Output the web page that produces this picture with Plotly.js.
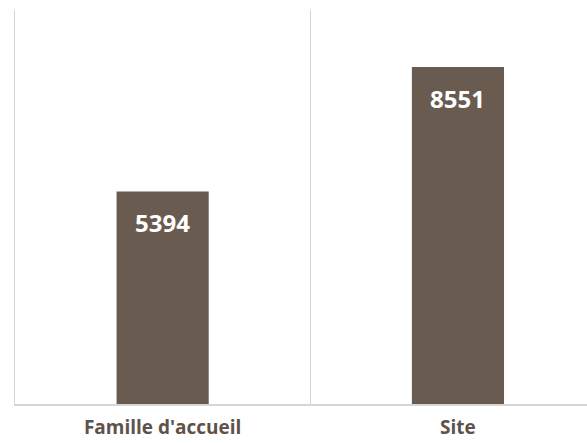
<!DOCTYPE html>
<html>
<head>
<meta charset="utf-8">
<script src="https://cdn.plot.ly/plotly-3.0.1.min.js"></script>
<style>html,body{margin:0;padding:0;background:#fff;}#chart{width:587px;height:443px;}</style>
</head>
<body>
<div id="chart"></div>
<script>
const categories = ["Famille d'accueil", "Site"];
const values = [5394, 8551];

const barColor = '#6a5b51';
const lineColor = '#d6d6d6';
const labelColor = '#5e5249';

const trace = {
  type: 'bar',
  x: categories,
  y: values,
  marker: {color: barColor},
  hoverinfo: 'skip'
};

const annotations = categories.map((c, i) => ({
  x: c, y: values[i], xref: 'x', yref: 'y',
  text: '<b>' + values[i] + '</b>',
  showarrow: false,
  yanchor: 'middle',
  yshift: -31,
  font: {family: 'Open Sans', size: 24, color: '#ffffff'}
}));

const layout = {
  width: 587, height: 443,
  margin: {l: 15, r: 0, t: 10, b: 39},
  paper_bgcolor: '#ffffff',
  plot_bgcolor: '#ffffff',
  bargap: 0.688,
  showlegend: false,
  xaxis: {
    type: 'category',
    range: [-0.5, 1.437],
    showgrid: true,
    gridcolor: lineColor,
    gridwidth: 1.5,
    tickson: 'boundaries',
    ticks: '',
    showline: true,
    linecolor: lineColor,
    linewidth: 1.5,
    ticklabelstandoff: 6,
    tickfont: {family: 'Open Sans', size: 19, color: labelColor, weight: 'bold'},
    fixedrange: true
  },
  yaxis: {
    range: [0, 10000],
    showgrid: false,
    zeroline: false,
    showline: true,
    linecolor: lineColor,
    linewidth: 1.5,
    showticklabels: false,
    ticks: '',
    fixedrange: true
  },
  annotations: annotations
};

Plotly.newPlot('chart', [trace], layout, {displayModeBar: false, staticPlot: true});
</script>
</body>
</html>
